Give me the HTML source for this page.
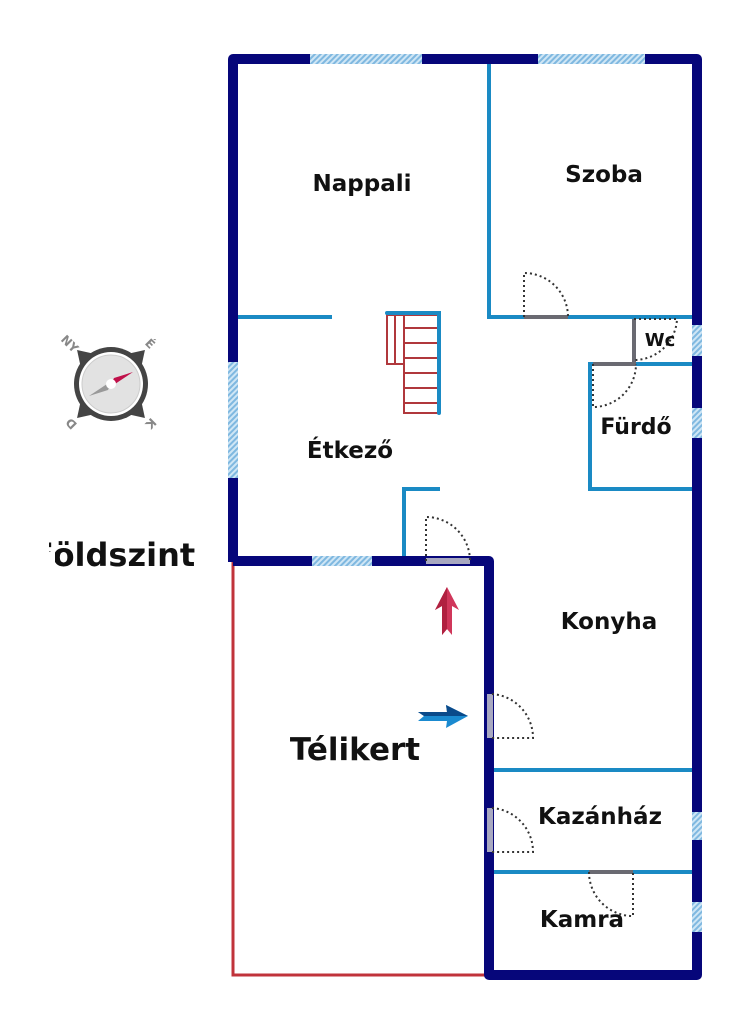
<!DOCTYPE html>
<html><head><meta charset="utf-8"><style>
html,body{margin:0;padding:0;background:#fff;}
svg{display:block}
text{font-family:"DejaVu Sans","Liberation Sans",sans-serif;font-weight:bold;fill:#111;}
</style></head><body>
<svg width="737" height="1024" viewBox="0 0 737 1024" xmlns="http://www.w3.org/2000/svg">
<defs>
<pattern id="h" width="4" height="4" patternUnits="userSpaceOnUse" patternTransform="rotate(45)">
<rect width="4" height="4" fill="#cfe6f5"/><rect width="2" height="4" fill="#7fb8e0"/>
</pattern>
</defs>
<polyline points="233,562 233,975 489,975" fill="none" stroke="#c0333b" stroke-width="3"/>
<g stroke="#1a8ac4" stroke-width="4" fill="none" stroke-linecap="square">
<line x1="489" y1="62" x2="489" y2="317"/>
<line x1="489" y1="317" x2="695" y2="317"/>
<line x1="237" y1="317" x2="330" y2="317"/>
<line x1="590" y1="364" x2="695" y2="364"/>
<line x1="590" y1="364" x2="590" y2="489"/>
<line x1="590" y1="489" x2="695" y2="489"/>
<line x1="404" y1="489" x2="404" y2="557"/>
<line x1="404" y1="489" x2="438" y2="489"/>
<line x1="492" y1="770" x2="695" y2="770"/>
<line x1="492" y1="872" x2="695" y2="872"/>
</g>
<g stroke="#b0383c" stroke-width="2" fill="none">
<rect x="387" y="315" width="17" height="49"/>
<line x1="395" y1="315" x2="395" y2="364"/>
<rect x="404" y="315" width="34" height="98"/>
<line x1="404" y1="328" x2="438" y2="328"/>
<line x1="404" y1="343" x2="438" y2="343"/>
<line x1="404" y1="358" x2="438" y2="358"/>
<line x1="404" y1="373" x2="438" y2="373"/>
<line x1="404" y1="388" x2="438" y2="388"/>
<line x1="404" y1="403" x2="438" y2="403"/>
</g>
<g stroke="#1a8ac4" stroke-width="4" fill="none" stroke-linecap="round">
<polyline points="387,313 439,313 439,413"/>
</g>
<g stroke="#06067a" stroke-width="10" fill="none" stroke-linejoin="round">
<polyline points="233,562 233,59 697,59 697,975 489,975 489,561 233,561"/>
</g>
<g fill="url(#h)">
<rect x="310" y="54" width="112" height="10"/>
<rect x="538" y="54" width="107" height="10"/>
<rect x="228" y="362" width="10" height="116"/>
<rect x="312" y="556" width="60" height="10"/>
<rect x="692" y="325" width="10" height="31"/>
<rect x="692" y="408" width="10" height="30"/>
<rect x="692" y="812" width="10" height="28"/>
<rect x="692" y="902" width="10" height="30"/>
</g>
<g stroke="#6a6a72" stroke-width="4">
<line x1="524" y1="317" x2="568" y2="317"/>
<line x1="634" y1="319" x2="634" y2="362"/>
<line x1="593" y1="364" x2="636" y2="364"/>
<line x1="426" y1="561" x2="470" y2="561" stroke="#a8a8c0" stroke-width="6"/>
<line x1="490" y1="694" x2="490" y2="738" stroke="#a8a8c0" stroke-width="6"/>
<line x1="490" y1="808" x2="490" y2="852" stroke="#a8a8c0" stroke-width="6"/>
<line x1="589" y1="872" x2="633" y2="872"/>
</g>
<g stroke="#333" stroke-width="2" stroke-dasharray="2,3" fill="none">
<path d="M524,317 V273 A44,44 0 0 1 568,317"/>
<path d="M634,319 H677 A43,43 0 0 1 634,360"/>
<path d="M593,364 V407 A43,43 0 0 0 636,364"/>
<path d="M426,561 V517 A44,44 0 0 1 470,561"/>
<path d="M492,694 A44,44 0 0 1 533,738 H492"/>
<path d="M492,808 A44,44 0 0 1 533,852 H492"/>
<path d="M589,872 A44,44 0 0 0 633,916 V872"/>
</g>
<polygon points="447,587 459,610 452,606 452,635 447,629 442,635 442,606 435,610" fill="#d0365a"/>
<polygon points="447,587 447,629 442,635 442,606 435,610" fill="#b02040"/>
<polygon points="468,716 446,705 447,712 418,712 424,716 418,721 447,721 446,728" fill="#1a8ad0"/>
<polygon points="468,716 446,705 447,712 418,712 424,716" fill="#0a4a8a"/>
<g transform="translate(111,384)">
<g transform="rotate(-45)">
<polygon points="0,-48 -9,-34 9,-34" fill="#444"/>
<polygon points="0,48 -9,34 9,34" fill="#444"/>
<polygon points="-48,0 -34,-9 -34,9" fill="#444"/>
<polygon points="48,0 34,-9 34,9" fill="#444"/>
</g>
<circle r="37" fill="#444"/>
<circle r="32" fill="#fff"/>
<circle r="29" fill="#e2e2e2" stroke="#ccc" stroke-width="1"/>
<polygon points="22,-12 3,-6 -2,4" fill="#c0104a"/>
<polygon points="-22,12 -3,6 2,-4" fill="#999"/>
<circle r="5" fill="#fff"/>
<text font-size="12" style="fill:#888" transform="rotate(-45) translate(-10,-52) rotate(90 10 -5)">NY</text>
<text font-size="12" style="fill:#888" transform="rotate(45) translate(-5,-52)">É</text>
<text font-size="12" style="fill:#888" transform="rotate(135) translate(-5,-52)">K</text>
<text font-size="12" style="fill:#888" transform="rotate(225) translate(-5,-52)">D</text>
</g>
<text x="362" y="191" font-size="23" text-anchor="middle">Nappali</text>
<text x="604" y="182" font-size="23" text-anchor="middle">Szoba</text>
<text x="660" y="346" font-size="18" text-anchor="middle">Wc</text>
<text x="636" y="434" font-size="22" text-anchor="middle">Fürdő</text>
<text x="350" y="458" font-size="23" text-anchor="middle">Étkező</text>
<text x="609" y="629" font-size="23" text-anchor="middle">Konyha</text>
<text x="355" y="760" font-size="31" text-anchor="middle">Télikert</text>
<text x="600" y="824" font-size="23" text-anchor="middle">Kazánház</text>
<text x="582" y="927" font-size="23" text-anchor="middle">Kamra</text>
<text x="32" y="566" font-size="32">Földszint</text>
<rect x="0" y="536" width="49" height="36" fill="#fff"/>
<rect x="49" y="552" width="6" height="10" fill="#fff"/>
</svg>
</body></html>
